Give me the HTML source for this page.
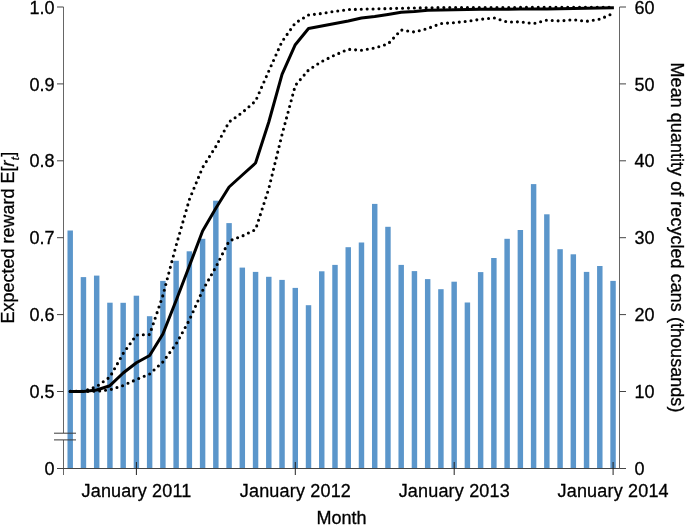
<!DOCTYPE html>
<html><head><meta charset="utf-8"><style>
html,body{margin:0;padding:0;background:#fff;width:685px;height:525px;overflow:hidden}
svg{display:block;will-change:transform}
text{font-family:"Liberation Sans",sans-serif;font-size:18px;fill:#000;stroke:#000;stroke-width:0.3px}
</style></head><body>
<svg width="685" height="525" viewBox="0 0 685 525">
<rect x="67.48" y="230.50" width="5.45" height="238.00" fill="#5b96cb"/>
<rect x="80.72" y="277.10" width="5.45" height="191.40" fill="#5b96cb"/>
<rect x="93.96" y="275.60" width="5.45" height="192.90" fill="#5b96cb"/>
<rect x="107.20" y="302.70" width="5.45" height="165.80" fill="#5b96cb"/>
<rect x="120.44" y="302.80" width="5.45" height="165.70" fill="#5b96cb"/>
<rect x="133.68" y="295.70" width="5.45" height="172.80" fill="#5b96cb"/>
<rect x="146.91" y="316.20" width="5.45" height="152.30" fill="#5b96cb"/>
<rect x="160.16" y="280.90" width="5.45" height="187.60" fill="#5b96cb"/>
<rect x="173.40" y="260.80" width="5.45" height="207.70" fill="#5b96cb"/>
<rect x="186.64" y="251.30" width="5.45" height="217.20" fill="#5b96cb"/>
<rect x="199.88" y="238.80" width="5.45" height="229.70" fill="#5b96cb"/>
<rect x="213.12" y="200.70" width="5.45" height="267.80" fill="#5b96cb"/>
<rect x="226.35" y="223.10" width="5.45" height="245.40" fill="#5b96cb"/>
<rect x="239.59" y="267.60" width="5.45" height="200.90" fill="#5b96cb"/>
<rect x="252.84" y="271.90" width="5.45" height="196.60" fill="#5b96cb"/>
<rect x="266.07" y="276.80" width="5.45" height="191.70" fill="#5b96cb"/>
<rect x="279.31" y="279.90" width="5.45" height="188.60" fill="#5b96cb"/>
<rect x="292.56" y="287.90" width="5.45" height="180.60" fill="#5b96cb"/>
<rect x="305.79" y="305.20" width="5.45" height="163.30" fill="#5b96cb"/>
<rect x="319.03" y="271.30" width="5.45" height="197.20" fill="#5b96cb"/>
<rect x="332.27" y="264.90" width="5.45" height="203.60" fill="#5b96cb"/>
<rect x="345.51" y="247.20" width="5.45" height="221.30" fill="#5b96cb"/>
<rect x="358.75" y="242.50" width="5.45" height="226.00" fill="#5b96cb"/>
<rect x="371.99" y="203.90" width="5.45" height="264.60" fill="#5b96cb"/>
<rect x="385.23" y="226.80" width="5.45" height="241.70" fill="#5b96cb"/>
<rect x="398.47" y="264.90" width="5.45" height="203.60" fill="#5b96cb"/>
<rect x="411.71" y="271.10" width="5.45" height="197.40" fill="#5b96cb"/>
<rect x="424.95" y="279.10" width="5.45" height="189.40" fill="#5b96cb"/>
<rect x="438.19" y="289.20" width="5.45" height="179.30" fill="#5b96cb"/>
<rect x="451.43" y="281.70" width="5.45" height="186.80" fill="#5b96cb"/>
<rect x="464.67" y="302.50" width="5.45" height="166.00" fill="#5b96cb"/>
<rect x="477.91" y="272.10" width="5.45" height="196.40" fill="#5b96cb"/>
<rect x="491.15" y="258.00" width="5.45" height="210.50" fill="#5b96cb"/>
<rect x="504.39" y="238.80" width="5.45" height="229.70" fill="#5b96cb"/>
<rect x="517.63" y="230.00" width="5.45" height="238.50" fill="#5b96cb"/>
<rect x="530.88" y="184.10" width="5.45" height="284.40" fill="#5b96cb"/>
<rect x="544.12" y="214.30" width="5.45" height="254.20" fill="#5b96cb"/>
<rect x="557.36" y="249.20" width="5.45" height="219.30" fill="#5b96cb"/>
<rect x="570.60" y="254.30" width="5.45" height="214.20" fill="#5b96cb"/>
<rect x="583.84" y="271.90" width="5.45" height="196.60" fill="#5b96cb"/>
<rect x="597.08" y="266.00" width="5.45" height="202.50" fill="#5b96cb"/>
<rect x="610.32" y="280.90" width="5.45" height="187.60" fill="#5b96cb"/>
<path d="M63.5 7 V433 M63.5 440 V475" stroke="#666" stroke-width="1" fill="none"/>
<path d="M57 7 H63.5 M57 83.9 H63.5 M57 160.8 H63.5 M57 237.7 H63.5 M57 314.6 H63.5 M57 391.5 H63.5 M57 468.5 H626" stroke="#444" stroke-width="1" fill="none"/>
<path d="M54 433.2 H76 M54 439.9 H76" stroke="#3a3a3a" stroke-width="1" fill="none"/>
<path d="M619.5 7 V468.5" stroke="#666" stroke-width="1" fill="none"/>
<path d="M619.5 7 H626 M619.5 83.9 H626 M619.5 160.8 H626 M619.5 237.7 H626 M619.5 314.6 H626 M619.5 391.5 H626" stroke="#444" stroke-width="1" fill="none"/>
<path d="M136.4 462 V475" stroke="#222" stroke-width="1"/>
<path d="M295.3 462 V475" stroke="#222" stroke-width="1"/>
<path d="M454.2 462 V475" stroke="#222" stroke-width="1"/>
<path d="M613.1 462 V475" stroke="#222" stroke-width="1"/>
<polyline points="69.3,391.40 83.44,391.40 96.68,390.00 109.92,385.70 123.16,373.00 136.40,362.80 149.64,355.50 162.88,334.00 176.12,300.50 189.36,266.00 202.60,231.00 215.84,208.30 229.08,187.00 242.32,175.00 255.56,163.00 268.80,122.00 282.04,74.30 295.28,44.70 308.52,28.50 321.76,26.00 335.00,23.50 348.24,21.00 361.48,18.00 374.72,16.50 387.96,14.50 401.20,12.30 414.44,11.50 427.68,10.30 440.92,10.00 454.16,9.80 467.40,9.50 480.64,9.30 493.88,9.20 507.12,9.20 520.36,9.10 533.60,9.00 546.84,8.90 560.08,8.80 573.32,8.60 586.56,8.30 599.80,8.00 613.9,7.70" fill="none" stroke="#000" stroke-width="3" stroke-linejoin="round" stroke-linecap="butt"/>
<polyline points="70.20,391.40 83.44,391.40 96.68,386.50 109.92,377.00 123.16,353.50 136.40,335.00 149.64,334.60 162.88,295.50 176.12,245.50 189.36,199.50 202.60,167.50 215.84,146.50 229.08,122.00 242.32,112.50 255.56,101.00 268.80,71.00 282.04,41.50 295.28,23.00 308.52,15.00 321.76,13.50 335.00,11.30 348.24,9.60 361.48,9.20 374.72,8.90 387.96,8.60 401.20,8.20 414.44,8.00 427.68,7.80 440.92,7.60 454.16,7.50 467.40,7.50 480.64,7.50 493.88,7.50 507.12,7.50 520.36,7.40 533.60,7.40 546.84,7.40 560.08,7.40 573.32,7.40 586.56,7.30 599.80,7.30 613.04,7.30" fill="none" stroke="#000" stroke-width="3.1" stroke-dasharray="0 5.9" stroke-linecap="round" stroke-linejoin="round"/>
<polyline points="70.20,391.40 83.44,391.40 96.68,391.20 109.92,389.80 123.16,385.50 136.40,379.50 149.64,374.00 162.88,362.00 176.12,344.00 189.36,320.00 202.60,290.50 215.84,267.00 229.08,241.00 242.32,236.00 255.56,229.50 268.80,188.50 282.04,134.50 295.28,85.50 308.52,70.00 321.76,61.50 335.00,55.00 348.24,49.30 361.48,50.30 374.72,48.00 387.96,44.00 401.20,30.00 414.44,32.00 427.68,28.50 440.92,23.50 454.16,22.70 467.40,21.20 480.64,19.30 493.88,17.90 507.12,22.00 520.36,21.80 533.60,23.60 546.84,20.10 560.08,21.00 573.32,19.70 586.56,21.30 599.80,19.20 613.04,13.50" fill="none" stroke="#000" stroke-width="3.1" stroke-dasharray="0 5.9" stroke-linecap="round" stroke-linejoin="round"/>
<text x="54.5" y="13.6" text-anchor="end" >1.0</text>
<text x="54.5" y="90.5" text-anchor="end" >0.9</text>
<text x="54.5" y="167.4" text-anchor="end" >0.8</text>
<text x="54.5" y="244.29999999999998" text-anchor="end" >0.7</text>
<text x="54.5" y="321.20000000000005" text-anchor="end" >0.6</text>
<text x="54.5" y="398.1" text-anchor="end" >0.5</text>
<text x="54.5" y="474.8" text-anchor="end" >0</text>
<text x="634.5" y="13.6" text-anchor="start" >60</text>
<text x="634.5" y="90.5" text-anchor="start" >50</text>
<text x="634.5" y="167.4" text-anchor="start" >40</text>
<text x="634.5" y="244.29999999999998" text-anchor="start" >30</text>
<text x="634.5" y="321.20000000000005" text-anchor="start" >20</text>
<text x="634.5" y="398.1" text-anchor="start" >10</text>
<text x="634.5" y="475.1" text-anchor="start" >0</text>
<text x="136.5" y="497" text-anchor="middle" letter-spacing="0.18">January 2011</text>
<text x="295.40000000000003" y="497" text-anchor="middle" letter-spacing="0.18">January 2012</text>
<text x="454.3" y="497" text-anchor="middle" letter-spacing="0.18">January 2013</text>
<text x="613.2" y="497" text-anchor="middle" letter-spacing="0.18">January 2014</text>
<text x="341.5" y="523.6" text-anchor="middle" >Month</text>
<text transform="translate(13.8,237.6) rotate(-90)" text-anchor="middle">Expected reward E[<tspan font-style="italic">r</tspan><tspan font-style="italic" font-size="11.5" dy="5" dx="0.3">t</tspan><tspan dy="-5" dx="0.3">]</tspan></text>
<text transform="translate(670.8,237.5) rotate(90)" text-anchor="middle" letter-spacing="0.04">Mean quantity of recycled cans (thousands)</text>
</svg>
</body></html>
